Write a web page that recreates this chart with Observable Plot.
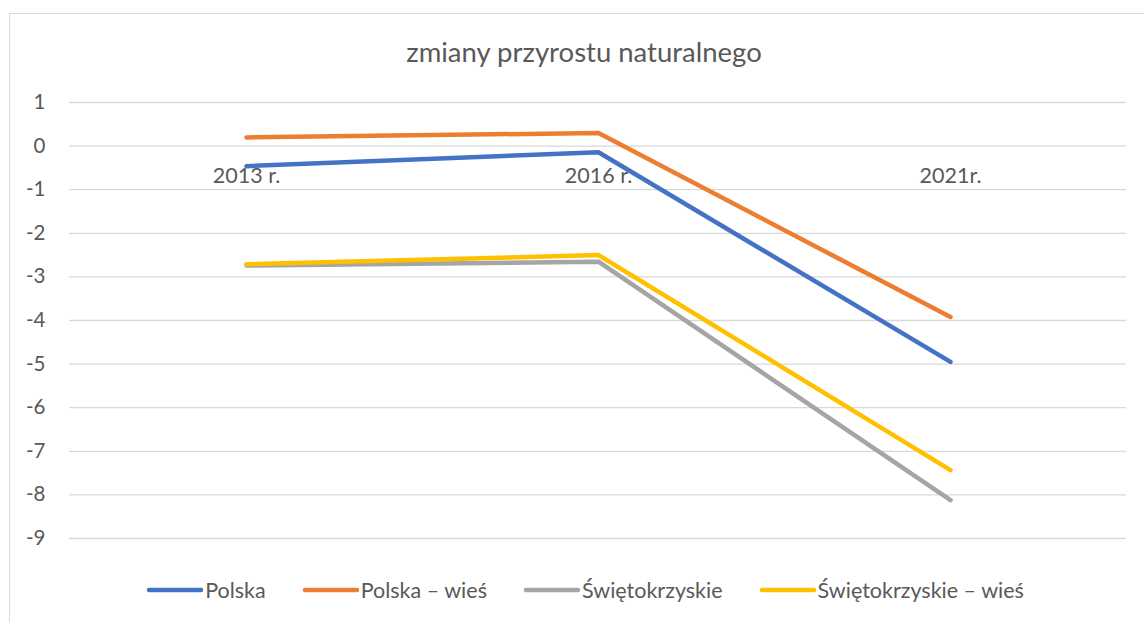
<!DOCTYPE html>
<html>
<head>
<meta charset="utf-8">
<script src="https://cdn.jsdelivr.net/npm/d3@7"></script>
<script src="https://cdn.jsdelivr.net/npm/@observablehq/plot@0.6"></script>
<style>
  html, body { margin: 0; padding: 0; background: #fff; }
  body { width: 1144px; height: 622px; overflow: hidden; position: relative; font-family: Lato, "Open Sans", sans-serif; }
  #frame { position: absolute; left: 9px; top: 13px; width: 1160px; height: 640px; border: 1.5px solid #d9d9d9; box-sizing: border-box; }
  #title { position: absolute; left: 0; width: 1168px; top: 38px; text-align: center; font-size: 27.5px; line-height: 28px; color: #595959; }
  #chart { position: absolute; left: 0; top: 0; }
  #legend { position: absolute; top: 577px; left: 0; width: 1170px; display: flex; justify-content: center; align-items: center; font-size: 21.5px; color: #595959; }
  .item { display: flex; align-items: center; margin: 0 18px; }
  .item svg { margin-right: 1px; }
</style>
</head>
<body>
<div id="frame"></div>
<div id="chart"></div>
<div id="title">zmiany przyrostu naturalnego</div>
<div id="legend"></div>
<script>
const years = ["2013 r.", "2016 r.", "2021r."];
const seriesNames = ["Polska", "Polska – wieś", "Świętokrzyskie", "Świętokrzyskie – wieś"];
const polska = [-0.46, -0.14, -4.95];
const polskaWies = [0.2, 0.3, -3.92];
const swietokrzyskie = [-2.74, -2.65, -8.12];
const swietokrzyskieWies = [-2.71, -2.5, -7.43];
const colors = ["#4472C4", "#ED7D31", "#A5A5A5", "#FFC000"];
const yTicks = [1, 0, -1, -2, -3, -4, -5, -6, -7, -8, -9];

const allSeries = [polska, polskaWies, swietokrzyskie, swietokrzyskieWies];
const data = [];
allSeries.forEach((vals, i) => vals.forEach((v, j) => data.push({series: seriesNames[i], year: years[j], value: v})));

const chart = Plot.plot({
  width: 1144,
  height: 560,
  marginLeft: 69,
  marginRight: 18,
  marginTop: 102,
  marginBottom: 22,
  style: {fontFamily: "Lato, 'Open Sans', sans-serif", fontSize: "20px", color: "#595959", background: "transparent", overflow: "visible"},
  x: {type: "point", domain: years, padding: 0.5, axis: null},
  y: {domain: [-9, 1], axis: null},
  color: {domain: seriesNames, range: colors},
  marks: [
    Plot.ruleY(yTicks, {stroke: "#d9d9d9", strokeWidth: 1.3}),
    Plot.axisY(yTicks, {tickSize: 0, tickPadding: 24, tickFormat: d => String(d), fill: "#595959", fontSize: 20.5, label: null}),
    Plot.text(years, {x: d => d, y: () => 0, dy: 30, text: d => d, fill: "#595959", fontSize: 21.5}),
    Plot.line(data, {x: "year", y: "value", z: "series", stroke: "series", strokeWidth: 4.5, strokeLinecap: "round", strokeLinejoin: "round"})
  ]
});
document.getElementById("chart").appendChild(chart);

const legend = document.getElementById("legend");
seriesNames.forEach((name, i) => {
  const item = document.createElement("div");
  item.className = "item";
  item.innerHTML = `<svg width="58" height="10"><line x1="3" y1="5" x2="55" y2="5" stroke="${colors[i]}" stroke-width="4.5" stroke-linecap="round"/></svg><span>${name}</span>`;
  legend.appendChild(item);
});
</script>
</body>
</html>
